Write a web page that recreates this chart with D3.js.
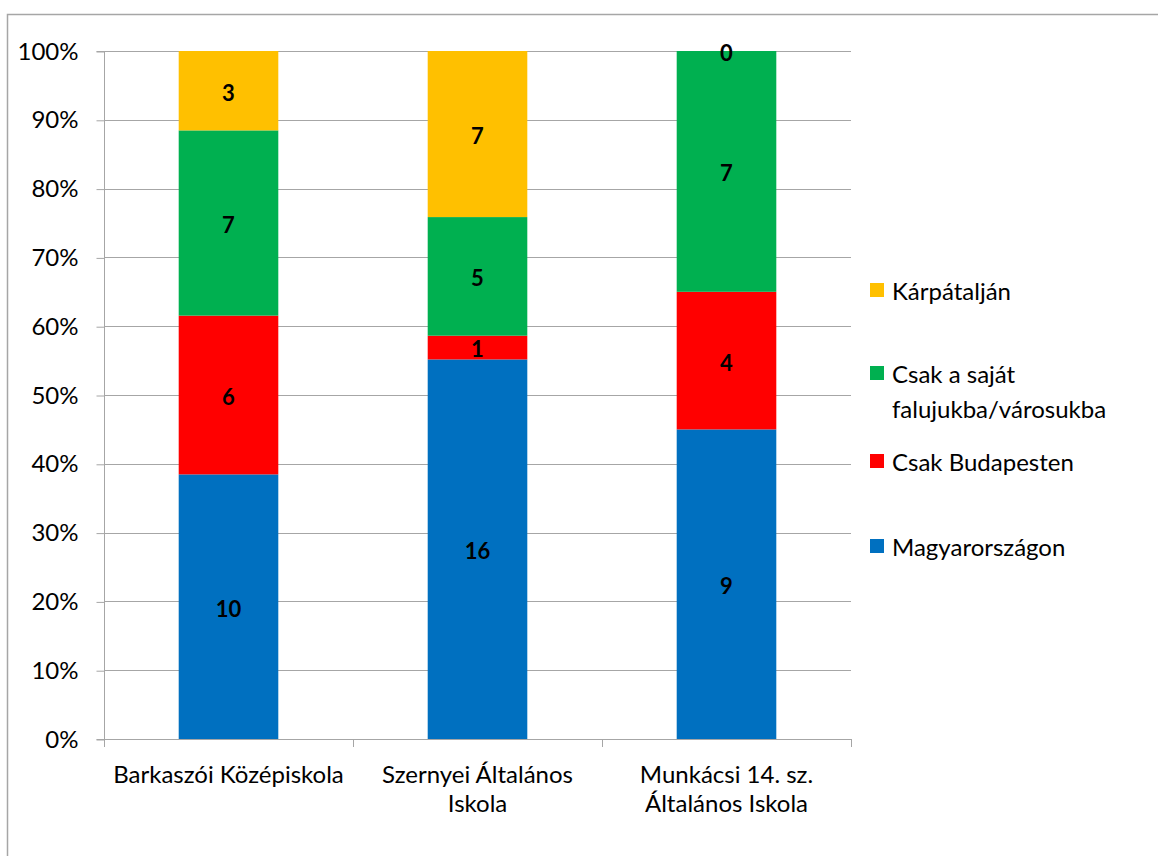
<!DOCTYPE html>
<html><head><meta charset="utf-8">
<script src="https://cdn.jsdelivr.net/npm/d3@7"></script>
<style>body{margin:0;background:#fff}text{font-family:Lato,"Open Sans",sans-serif}</style>
</head><body>
<svg id="c" width="1158" height="856"></svg>
<script>
const categories = [["Barkaszói Középiskola"], ["Szernyei Általános", "Iskola"], ["Munkácsi 14. sz.", "Általános Iskola"]];
const seriesNames = ["Magyarországon", "Csak Budapesten", "Csak a saját falujukba/városukba", "Kárpátalján"];
const seriesColors = ["#0070C0", "#FF0000", "#00B050", "#FFC000"];
const magyarorszagon = [10, 16, 9];
const csakBudapesten = [6, 1, 4];
const sajat = [7, 5, 7];
const karpataljan = [3, 7, 0];
const yTicks = [0, 0.1, 0.2, 0.3, 0.4, 0.5, 0.6, 0.7, 0.8, 0.9, 1];

const svg = d3.select("#c");
const fs = 24;
svg.append("rect").attr("x", 7.5).attr("y", 14.5).attr("width", 1170).attr("height", 900)
  .attr("fill", "none").attr("stroke", "#a6a6a6").attr("stroke-width", 1.5);

const L = 104, R = 851, T = 51, B = 739;
const x = d3.scaleBand().domain([0,1,2]).range([L, R]).paddingInner(0.6).paddingOuter(0.3);
const y = d3.scaleLinear().domain([0,1]).range([B, T]);
const seriesVals = [magyarorszagon, csakBudapesten, sajat, karpataljan];

// gridlines
svg.append("g").selectAll("line").data(yTicks).join("line")
  .attr("x1", L).attr("x2", R).attr("y1", d => Math.round(y(d))+0.5).attr("y2", d => Math.round(y(d))+0.5)
  .attr("stroke", "#a6a6a6").attr("stroke-width", 1);

// y axis
const yAxis = d3.axisLeft(y).tickValues(yTicks).tickFormat(d3.format(".0%")).tickSize(8).tickPadding(18);
const ya = svg.append("g").attr("transform", `translate(${L+0.5},0.5)`).call(yAxis);
ya.select(".domain").attr("stroke", "#a6a6a6").attr("d", `M-8,${y(1)}H0V${y(0)}H-8`);
ya.selectAll(".tick line").attr("stroke", "#a6a6a6");
ya.selectAll(".tick text").attr("font-size", fs).attr("fill", "#000").attr("font-family", "Lato");

// bars
const data = categories.map((c,i) => {
  const vals = seriesVals.map(s => s[i]);
  const tot = d3.sum(vals);
  let acc = 0;
  return vals.map((v,k) => { const o = {i, k, v, y0: acc/tot, y1: (acc+v)/tot}; acc += v; return o; });
}).flat();
svg.append("g").selectAll("rect").data(data).join("rect")
  .attr("x", d => x(d.i)).attr("width", x.bandwidth())
  .attr("y", d => y(d.y1)).attr("height", d => y(d.y0) - y(d.y1))
  .attr("fill", d => seriesColors[d.k]);
svg.append("g").selectAll("text").data(data).join("text")
  .attr("x", d => x(d.i) + x.bandwidth()/2).attr("y", d => y((d.y0+d.y1)/2))
  .attr("dy", "0.45em").attr("text-anchor", "middle").attr("font-weight", "bold").attr("font-size", 22)
  .text(d => d.v);

// x axis
const step = (R-L)/3;
const xa = svg.append("g");
xa.append("line").attr("x1", L).attr("x2", R).attr("y1", B+0.5).attr("y2", B+0.5).attr("stroke", "#a6a6a6");
xa.selectAll("line.t").data([0,1,2,3]).join("line").attr("class","t")
  .attr("x1", d => Math.round(L + d*step)+0.5).attr("x2", d => Math.round(L + d*step)+0.5)
  .attr("y1", B).attr("y2", B+8).attr("stroke", "#a6a6a6");
xa.selectAll("text").data(categories).join("text")
  .attr("text-anchor", "middle").attr("font-size", fs)
  .attr("transform", (d,i) => `translate(${x(i)+x.bandwidth()/2},783)`)
  .selectAll("tspan").data(d => d).join("tspan")
  .attr("x", 0).attr("dy", (d,j) => j ? 29 : 0).text(d => d);

// legend
const legend = [
  {k:3, lines:["Kárpátalján"], y:290},
  {k:2, lines:["Csak a saját","falujukba/városukba"], y:373},
  {k:1, lines:["Csak Budapesten"], y:461},
  {k:0, lines:["Magyarországon"], y:546}
];
const lg = svg.append("g").selectAll("g").data(legend).join("g");
lg.append("rect").attr("x", 870).attr("y", d => d.y - 7).attr("width", 14).attr("height", 14)
  .attr("fill", d => seriesColors[d.k]);
lg.append("text").attr("font-size", fs).attr("transform", d => `translate(892,${d.y})`)
  .selectAll("tspan").data(d => d.lines).join("tspan").attr("x", 0).attr("dy", (d,j) => j ? 35 : 0)
  .attr("dominant-baseline", "central").text(d => d);
</script>
</body></html>
